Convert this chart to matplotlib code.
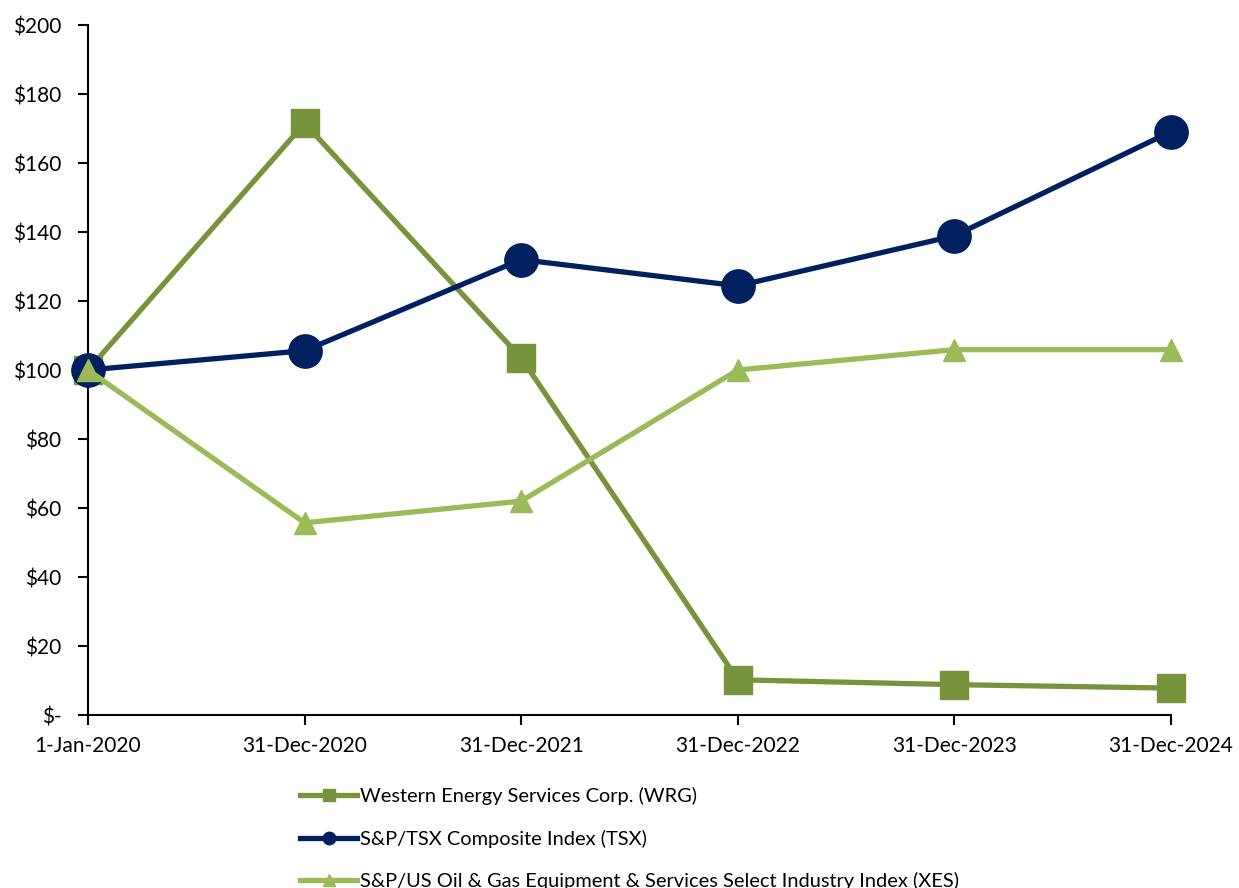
import matplotlib
matplotlib.use("Agg")
import matplotlib.pyplot as plt
from matplotlib.lines import Line2D
from matplotlib.ticker import FuncFormatter

plt.rcParams['font.family'] = ['Lato', 'DejaVu Sans']

categories = ["1-Jan-2020", "31-Dec-2020", "31-Dec-2021", "31-Dec-2022", "31-Dec-2023", "31-Dec-2024"]
wrg = [100, 171.5, 103.5, 10.2, 8.8, 7.8]
tsx = [100, 105.6, 132.0, 124.4, 138.9, 169.1]
xes = [100, 55.7, 62.0, 100.0, 105.9, 105.9]
labels = ["Western Energy Services Corp. (WRG)",
          "S&P/TSX Composite Index (TSX)",
          "S&P/US Oil & Gas Equipment & Services Select Industry Index (XES)"]

c_wrg = "#77933C"
c_tsx = "#002060"
c_xes = "#9BBB59"

fig = plt.figure(figsize=(12.39, 8.88), dpi=100)
ax = fig.add_axes([88/1239, 1-715/888, (1171-88)/1239, (715-25)/888])

x = list(range(len(categories)))
ax.plot(x, wrg, color=c_wrg, lw=3.8, marker='s', ms=20, clip_on=False, zorder=3)
ax.plot(x, tsx, color=c_tsx, lw=3.8, marker='o', ms=24, clip_on=False, zorder=4)
ax.plot(x, xes, color=c_xes, lw=3.8, marker='^', ms=16, clip_on=False, zorder=5)

ax.set_xlim(0, 5)
ax.set_ylim(0, 200)
ax.set_xticks(x)
ax.set_xticklabels(categories)
ax.set_yticks(range(0, 201, 20))
ax.yaxis.set_major_formatter(FuncFormatter(lambda v, p: "$-" if v == 0 else f"${int(v)}"))
for s in ['top', 'right']:
    ax.spines[s].set_visible(False)
for s in ['left', 'bottom']:
    ax.spines[s].set_linewidth(1.5)
ax.tick_params(axis='both', direction='out', length=7, width=1.5, labelsize=15, colors='black')
ax.tick_params(axis='y', pad=12)
ax.tick_params(axis='x', pad=8)

handles = [
    Line2D([], [], color=c_wrg, lw=3.8, marker='s', ms=9),
    Line2D([], [], color=c_tsx, lw=3.8, marker='o', ms=9),
    Line2D([], [], color=c_xes, lw=3.8, marker='^', ms=9),
]
fig.legend(handles, labels, loc='upper left', bbox_to_anchor=(300/1239, 1-787/888),
           frameon=False, fontsize=14.4, handlelength=2.85, handletextpad=0.15,
           labelspacing=1.22, borderaxespad=0, borderpad=0)

fig.savefig("out.png", dpi=100)
